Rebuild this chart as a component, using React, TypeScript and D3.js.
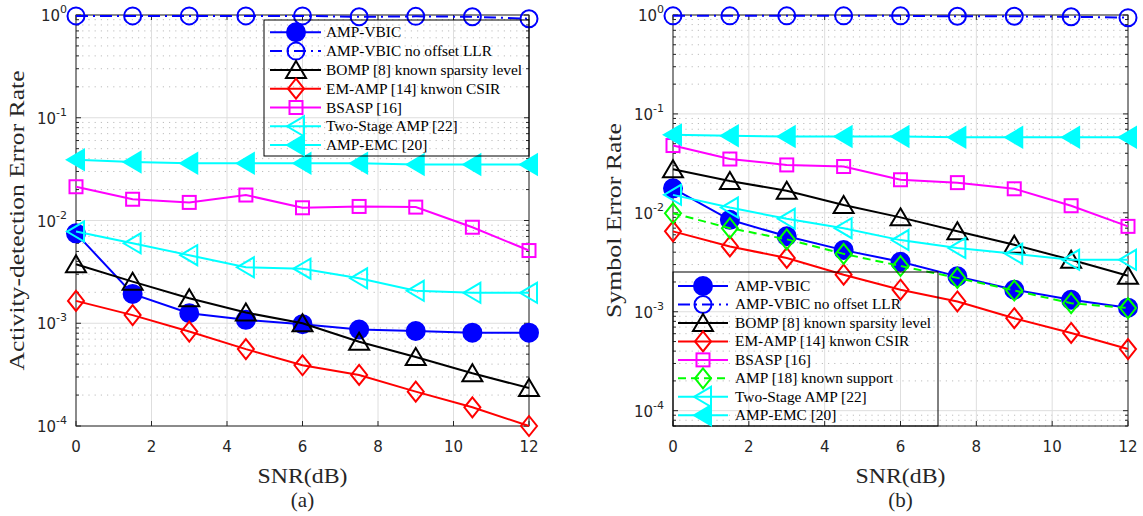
import React from "react";
import * as d3 from "d3";

const SNR = [0, 1.5, 3, 4.5, 6, 7.5, 9, 10.5, 12];
const X_TICKS = [0, 2, 4, 6, 8, 10, 12];
const Y_EXPONENTS = [0, -1, -2, -3, -4];

// Panel (a): activity-detection error rate
const A_VBIC = [0.0075, 0.00193, 0.00125, 0.00108, 0.00098, 0.00087, 0.00084, 0.00081, 0.00081];
const A_NO_OFFSET = [0.98, 0.98, 0.98, 0.98, 0.98, 0.96, 0.97, 0.96, 0.92];
const A_BOMP = [0.00375, 0.00254, 0.00175, 0.00127, 0.001, 0.00066, 0.00047, 0.000326, 0.000234];
const A_EMAMP = [0.00165, 0.0012, 0.00083, 0.00056, 0.00039, 0.000314, 0.000216, 0.000152, 0.0001];
const A_BSASP = [0.0213, 0.0161, 0.015, 0.0177, 0.0133, 0.0137, 0.0135, 0.0086, 0.0051];
const A_TWOSTAGE = [0.0078, 0.006, 0.0046, 0.0035, 0.0034, 0.00274, 0.00207, 0.00198, 0.00198];
const A_EMC = [0.039, 0.037, 0.036, 0.036, 0.036, 0.036, 0.035, 0.035, 0.035];

// Panel (b): symbol error rate
const B_VBIC = [0.0177, 0.0085, 0.0058, 0.0042, 0.0032, 0.00228, 0.00167, 0.00132, 0.0011];
const B_NO_OFFSET = [0.98, 0.98, 0.98, 0.98, 0.98, 0.97, 0.97, 0.96, 0.94];
const B_BOMP = [0.0276, 0.021, 0.0167, 0.012, 0.009, 0.0065, 0.00475, 0.00335, 0.00231];
const B_EMAMP = [0.0065, 0.00457, 0.0035, 0.00237, 0.00167, 0.00127, 0.00086, 0.00061, 0.00042];
const B_BSASP = [0.0479, 0.035, 0.0305, 0.0294, 0.0216, 0.0202, 0.0175, 0.0118, 0.0073];
const B_KNOWN = [0.0099, 0.007, 0.0054, 0.00385, 0.0029, 0.0022, 0.00164, 0.00122, 0.00109];
const B_TWOSTAGE = [0.0152, 0.0113, 0.0087, 0.007, 0.0053, 0.0044, 0.00385, 0.00335, 0.00335];
const B_EMC = [0.0614, 0.06, 0.059, 0.059, 0.059, 0.058, 0.058, 0.058, 0.058];

const NAMES_A = [
  "AMP-VBIC",
  "AMP-VBIC no offset LLR",
  "BOMP [8] known sparsity level",
  "EM-AMP [14] knwon CSIR",
  "BSASP [16]",
  "Two-Stage AMP [22]",
  "AMP-EMC [20]",
];
const NAMES_B = [
  "AMP-VBIC",
  "AMP-VBIC no offset LLR",
  "BOMP [8] known sparsity level",
  "EM-AMP [14] knwon CSIR",
  "BSASP [16]",
  "AMP [18] known support",
  "Two-Stage AMP [22]",
  "AMP-EMC [20]",
];

type Style = { color: string; marker: string; filled: boolean; dash?: string };
const ST: Record<string, Style> = {
  vbic: { color: "#0000ff", marker: "circle", filled: true },
  nooff: { color: "#0000ff", marker: "circle", filled: false, dash: "12 5 2 5" },
  bomp: { color: "#000000", marker: "tri", filled: false },
  em: { color: "#ff0000", marker: "diamond", filled: false },
  bsasp: { color: "#ff00ff", marker: "square", filled: false },
  known: { color: "#00ff00", marker: "diamond", filled: false, dash: "8 5" },
  two: { color: "#00ffff", marker: "left", filled: false },
  emc: { color: "#00ffff", marker: "left", filled: true },
};

const SERIES_A = [
  { v: A_VBIC, s: ST.vbic },
  { v: A_NO_OFFSET, s: ST.nooff },
  { v: A_BOMP, s: ST.bomp },
  { v: A_EMAMP, s: ST.em },
  { v: A_BSASP, s: ST.bsasp },
  { v: A_TWOSTAGE, s: ST.two },
  { v: A_EMC, s: ST.emc },
];
const SERIES_B = [
  { v: B_VBIC, s: ST.vbic },
  { v: B_NO_OFFSET, s: ST.nooff },
  { v: B_BOMP, s: ST.bomp },
  { v: B_EMAMP, s: ST.em },
  { v: B_BSASP, s: ST.bsasp },
  { v: B_KNOWN, s: ST.known },
  { v: B_TWOSTAGE, s: ST.two },
  { v: B_EMC, s: ST.emc },
];

const SERIF = "'Liberation Serif', 'Times New Roman', serif";
const SANS = "'DejaVu Sans', Arial, sans-serif";
const AX = "#262626";

function Marker({ type, x, y, color, filled }: { type: string; x: number; y: number; color: string; filled: boolean }) {
  const fill = filled ? color : "none";
  const common = { stroke: color, strokeWidth: 2, fill };
  if (type === "circle") return <circle cx={x} cy={y} r={filled ? 9 : 8.5} {...common} />;
  if (type === "square") return <rect x={x - 6.5} y={y - 6.5} width={13} height={13} {...common} />;
  if (type === "diamond")
    return <polygon points={`${x},${y - 10} ${x + 8},${y} ${x},${y + 10} ${x - 8},${y}`} {...common} />;
  if (type === "tri")
    return <polygon points={`${x},${y - 9} ${x + 10},${y + 8} ${x - 10},${y + 8}`} {...common} />;
  if (type === "left")
    return <polygon points={`${x - 9},${y} ${x + 8},${y - 10} ${x + 8},${y + 10}`} {...common} />;
  return null;
}

type PanelProps = {
  x0: number;
  x1: number;
  y0: number;
  y1: number;
  yMin: number;
  series: { v: number[]; s: Style }[];
  names: string[];
  ylabel: string;
  ylabelLen: number;
  caption: string;
  legend: { x0: number; x1: number; y0: number; y1: number; row0: number; step: number; lx0: number; lx1: number; mx: number; tx: number };
  id: string;
};

function Panel(p: PanelProps) {
  const xs = d3.scaleLinear().domain([0, 12]).range([p.x0, p.x1]);
  const ys = d3.scaleLog().domain([p.yMin, 1]).range([p.y1, p.y0]);
  const line = d3
    .line<number>()
    .x((_, i) => xs(SNR[i]))
    .y((d) => ys(d));

  const minor: number[] = [];
  for (let e = -5; e < 0; e++) {
    for (let m = 2; m <= 9; m++) {
      const v = m * Math.pow(10, e);
      if (v > p.yMin && v < 1) minor.push(v);
    }
  }
  const majors = Y_EXPONENTS.map((e) => Math.pow(10, e)).filter((v) => v >= p.yMin);
  const cy = (p.y0 + p.y1) / 2;
  const cx = (p.x0 + p.x1) / 2;
  const L = p.legend;

  return (
    <g>
      <defs>
        <clipPath id={p.id}>
          <rect x={p.x0 - 20} y={p.y0 - 20} width={p.x1 - p.x0 + 40} height={p.y1 - p.y0 + 40} />
        </clipPath>
      </defs>
      <rect x={p.x0} y={p.y0} width={p.x1 - p.x0} height={p.y1 - p.y0} fill="#fff" />
      {/* minor grid */}
      {minor.map((v) => (
        <line key={"mg" + v} x1={p.x0} x2={p.x1} y1={ys(v)} y2={ys(v)} stroke="#bdbdbd" strokeWidth={1} strokeDasharray="1.2 5" />
      ))}
      {/* major grid */}
      {majors.map((v) => (
        <line key={"gy" + v} x1={p.x0} x2={p.x1} y1={ys(v)} y2={ys(v)} stroke="#dedede" strokeWidth={1} />
      ))}
      {X_TICKS.map((t) => (
        <line key={"gx" + t} x1={xs(t)} x2={xs(t)} y1={p.y0} y2={p.y1} stroke="#dedede" strokeWidth={1} />
      ))}
      {/* box */}
      <rect x={p.x0} y={p.y0} width={p.x1 - p.x0} height={p.y1 - p.y0} fill="none" stroke={AX} strokeWidth={1} />
      {/* ticks */}
      {X_TICKS.map((t) => (
        <g key={"tx" + t}>
          <line x1={xs(t)} x2={xs(t)} y1={p.y1} y2={p.y1 - 5} stroke={AX} />
          <line x1={xs(t)} x2={xs(t)} y1={p.y0} y2={p.y0 + 5} stroke={AX} />
          <text x={xs(t)} y={p.y1 + 26} textAnchor="middle" fontFamily={SANS} fontSize={15} fill={AX}>
            {t}
          </text>
        </g>
      ))}
      {majors.map((v) => (
        <g key={"ty" + v}>
          <line x1={p.x0} x2={p.x0 + 5} y1={ys(v)} y2={ys(v)} stroke={AX} />
          <line x1={p.x1} x2={p.x1 - 5} y1={ys(v)} y2={ys(v)} stroke={AX} />
          <text x={p.x0 - 9} y={ys(v) + 6} textAnchor="end" fontFamily={SANS} fontSize={15} fill={AX}>
            10
            <tspan fontSize={11} dy={-8}>
              {String(Math.round(Math.log10(v)))}
            </tspan>
          </text>
        </g>
      ))}
      {minor.map((v) => (
        <g key={"mt" + v}>
          <line x1={p.x0} x2={p.x0 + 3} y1={ys(v)} y2={ys(v)} stroke={AX} />
          <line x1={p.x1} x2={p.x1 - 3} y1={ys(v)} y2={ys(v)} stroke={AX} />
        </g>
      ))}
      {/* series */}
      <g clipPath={`url(#${p.id})`}>
        {p.series.map((se, k) => (
          <g key={"s" + k}>
            <path d={line(se.v) || ""} fill="none" stroke={se.s.color} strokeWidth={2} strokeDasharray={se.s.dash} />
            {se.v.map((d, i) => (
              <Marker key={i} type={se.s.marker} x={xs(SNR[i])} y={ys(d)} color={se.s.color} filled={se.s.filled} />
            ))}
          </g>
        ))}
      </g>
      {/* legend */}
      <rect x={L.x0} y={L.y0} width={L.x1 - L.x0} height={L.y1 - L.y0} fill="none" stroke="#000" strokeWidth={1} />
      {p.series.map((se, k) => {
        const ry = L.row0 + k * L.step;
        return (
          <g key={"l" + k}>
            <line x1={L.lx0} x2={L.lx1} y1={ry} y2={ry} stroke={se.s.color} strokeWidth={2} strokeDasharray={se.s.dash} />
            <Marker type={se.s.marker} x={L.mx} y={ry} color={se.s.color} filled={se.s.filled} />
            <text x={L.tx} y={ry + 5} fontFamily={SERIF} fontSize={15.4} fill="#000">
              {p.names[k]}
            </text>
          </g>
        );
      })}
      {/* labels */}
      <text x={cx} y={483} textAnchor="middle" fontFamily={SERIF} fontSize={21} fill={AX} textLength={90} lengthAdjust="spacingAndGlyphs">
        SNR(dB)
      </text>
      <text x={cx} y={507} textAnchor="middle" fontFamily={SERIF} fontSize={21} fill={AX}>
        {p.caption}
      </text>
      <text
        transform={`translate(${p.x0 - 52},${cy}) rotate(-90)`}
        textAnchor="middle"
        fontFamily={SERIF}
        fontSize={21}
        fill={AX}
        textLength={p.ylabelLen}
        lengthAdjust="spacingAndGlyphs"
      >
        {p.ylabel}
      </text>
    </g>
  );
}

export default function App() {
  return (
    <svg width={1143} height={516} style={{ position: "absolute", left: 0, top: 0, background: "#fff" }}>
      <rect x={0} y={0} width={1143} height={516} fill="#fff" />
      <Panel
        id="clipA"
        x0={76}
        x1={529}
        y0={15}
        y1={426}
        yMin={1e-4}
        series={SERIES_A}
        names={NAMES_A}
        ylabel="Activity-detection Error Rate"
        ylabelLen={300}
        caption="(a)"
        legend={{ x0: 264, x1: 529, y0: 20, y1: 156, row0: 32.3, step: 18.8, lx0: 270, lx1: 321, mx: 296, tx: 326 }}
      />
      <Panel
        id="clipB"
        x0={673}
        x1={1128}
        y0={15}
        y1={426}
        yMin={7e-5}
        series={SERIES_B}
        names={NAMES_B}
        ylabel="Symbol Error Rate"
        ylabelLen={195}
        caption="(b)"
        legend={{ x0: 673, x1: 938, y0: 272, y1: 426, row0: 286, step: 18.47, lx0: 678, lx1: 728, mx: 703, tx: 735 }}
      />
    </svg>
  );
}
